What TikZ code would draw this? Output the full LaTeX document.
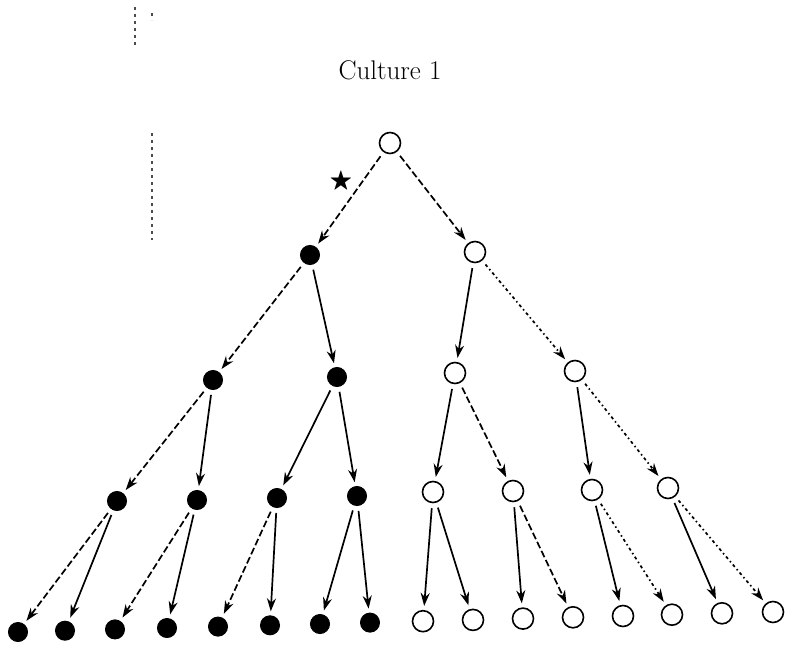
\documentclass[tikz,border=0pt]{standalone}
\usepackage{amssymb}
\usetikzlibrary{arrows.meta,shapes.geometric}
\begin{document}
\begin{tikzpicture}[x=1pt,y=-1pt,
  fnode/.style={circle,fill=black,draw=black,line width=1pt,minimum size=19pt,inner sep=0pt},
  onode/.style={circle,draw=black,line width=1.6pt,minimum size=21pt,inner sep=0pt},
  edge/.style={line width=1.7pt,-{Stealth[length=13pt,width=9pt]},shorten <=5pt,shorten >=4pt},
  sol/.style={edge},
  dsh/.style={edge,dash pattern=on 7pt off 3pt},
  dtd/.style={edge,dash pattern=on 3pt off 3pt on 1.5pt off 3pt},
  scan/.style={line width=1.2pt,black!70,dash pattern=on 3pt off 4pt}]
\useasboundingbox (0,0) rectangle (785,645);
% scan marks
\draw[scan] (135,7) -- (135,45);
\draw[scan] (152,13) -- (152,20);
\draw[scan] (152,133) -- (152,240);
% title
\node (title) at (390,70) {\fontsize{27}{30}\selectfont Culture 1};
% level 0
\node[onode] (r) at (390,143) {};
% level 1
\node[fnode] (a) at (310,255) {};
\node[onode] (b) at (475,252) {};
% level 2
\node[fnode] (aa) at (213,380) {};
\node[fnode] (ab) at (337,377) {};
\node[onode] (ba) at (455,373) {};
\node[onode] (bb) at (575,371) {};
% level 3
\node[fnode] (aaa) at (117,501) {};
\node[fnode] (aab) at (197,500) {};
\node[fnode] (aba) at (277,498) {};
\node[fnode] (abb) at (357,496) {};
\node[onode] (baa) at (433,492) {};
\node[onode] (bab) at (513,491) {};
\node[onode] (bba) at (592,490) {};
\node[onode] (bbb) at (668,488) {};
% level 4
\node[fnode] (l1) at (18,632) {};
\node[fnode] (l2) at (65,630.7) {};
\node[fnode] (l3) at (115,629.4) {};
\node[fnode] (l4) at (167,628) {};
\node[fnode] (l5) at (218,626.6) {};
\node[fnode] (l6) at (270,625.3) {};
\node[fnode] (l7) at (320,624) {};
\node[fnode] (l8) at (370,622.6) {};
\node[onode] (l9) at (423,621.2) {};
\node[onode] (l10) at (473,619.9) {};
\node[onode] (l11) at (523,618.6) {};
\node[onode] (l12) at (573,617.3) {};
\node[onode] (l13) at (623,616) {};
\node[onode] (l14) at (672,614.7) {};
\node[onode] (l15) at (722,613.3) {};
\node[onode] (l16) at (773,612) {};
% star
\node (star) at (341,182) {\fontsize{24}{24}\selectfont$\bigstar$};
% edges
\draw[dsh] (r) -- (a);
\draw[dsh] (r) -- (b);
\draw[dsh] (a) -- (aa);
\draw[sol] (a) -- (ab);
\draw[sol] (b) -- (ba);
\draw[dtd] (b) -- (bb);
\draw[dsh] (aa) -- (aaa);
\draw[sol] (aa) -- (aab);
\draw[sol] (ab) -- (aba);
\draw[sol] (ab) -- (abb);
\draw[sol] (ba) -- (baa);
\draw[dsh] (ba) -- (bab);
\draw[sol] (bb) -- (bba);
\draw[dtd] (bb) -- (bbb);
\draw[dsh] (aaa) -- (l1);
\draw[sol] (aaa) -- (l2);
\draw[dsh] (aab) -- (l3);
\draw[sol] (aab) -- (l4);
\draw[dsh] (aba) -- (l5);
\draw[sol] (aba) -- (l6);
\draw[sol] (abb) -- (l7);
\draw[sol] (abb) -- (l8);
\draw[sol] (baa) -- (l9);
\draw[sol] (baa) -- (l10);
\draw[sol] (bab) -- (l11);
\draw[dsh] (bab) -- (l12);
\draw[sol] (bba) -- (l13);
\draw[dtd] (bba) -- (l14);
\draw[sol] (bbb) -- (l15);
\draw[dtd] (bbb) -- (l16);
\end{tikzpicture}
\end{document}
